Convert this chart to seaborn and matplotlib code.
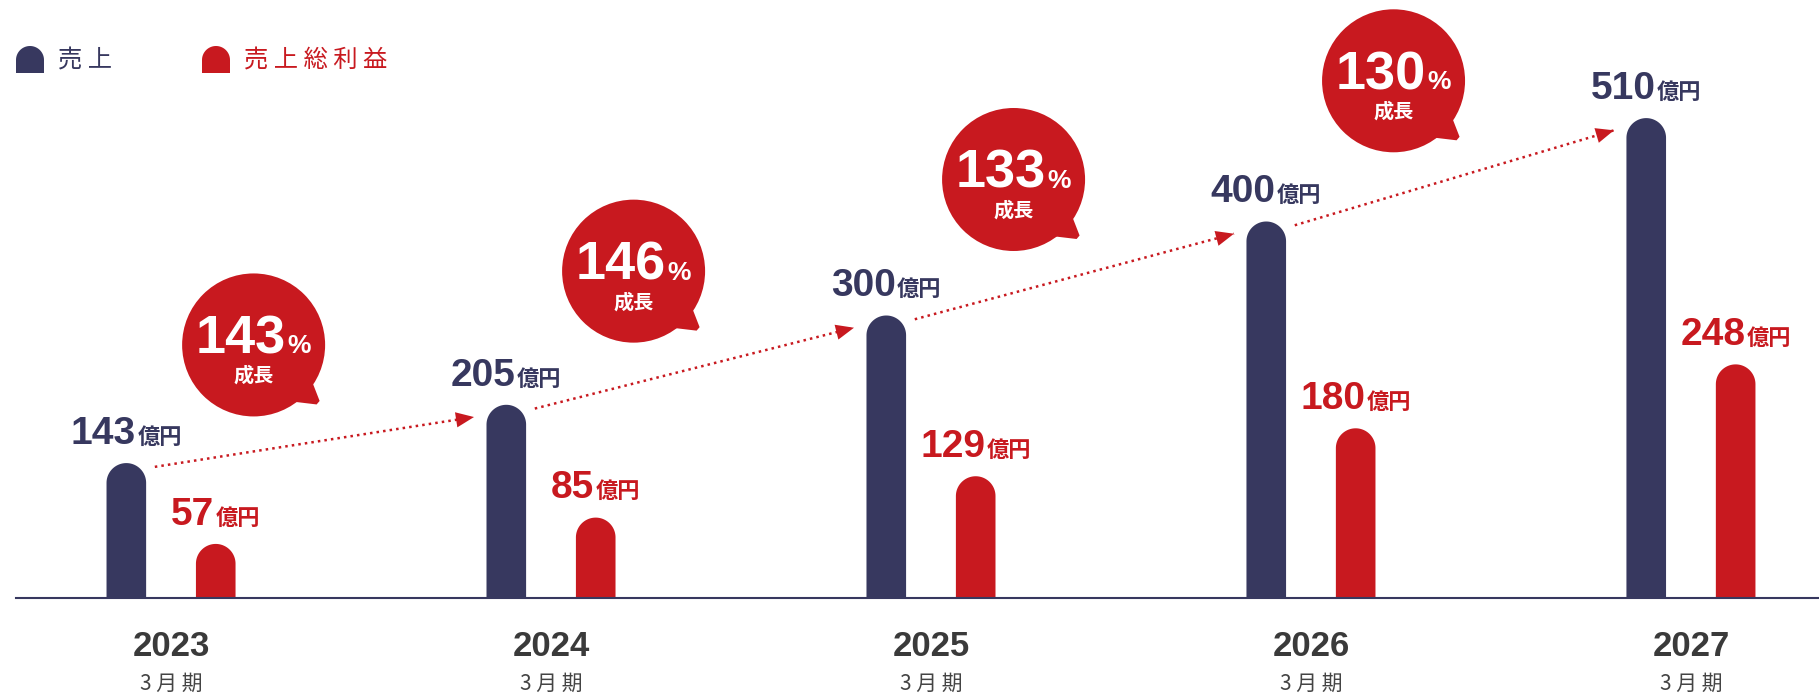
import numpy as np
import pandas as pd
import matplotlib
matplotlib.use("Agg")
import matplotlib.pyplot as plt
import matplotlib.transforms as mtransforms
from matplotlib.path import Path
from matplotlib.patches import PathPatch, Circle, Polygon
from matplotlib.offsetbox import TextArea, HPacker, AnnotationBbox
import seaborn as sns

# ---- data -------------------------------------------------------------
years = ["2023", "2024", "2025", "2026", "2027"]
period_label = "3 月 期"
sales = [143, 205, 300, 400, 510]
gross_profit = [57, 85, 129, 180, 248]
growth_pct = [143, 146, 133, 130]
series_names = ["売上", "売上総利益"]
legend_labels = ["売 上", "売 上 総 利 益"]
unit = "億円"
growth_word = "成長"

NAVY = "#37385f"
RED = "#c8191f"
YEAR_COLOR = "#3a3a3a"
PERIOD_COLOR = "#444444"

NUM_FONT = ["Liberation Sans", "DejaVu Sans"]
JP_FONT = ["Noto Sans CJK JP", "DejaVu Sans"]

sns.set_theme(style="white")
plt.rcParams["font.family"] = JP_FONT

# ---- canvas / axes geometry (pixels) -----------------------------------
W, H, DPI = 1819, 698, 100
base_px = 597.5          # baseline distance from top
left_px = 16
px_per_unit = 0.94       # vertical scale
xlim = (-0.408, 4.337)
ymax = base_px / px_per_unit

fig = plt.figure(figsize=(W / DPI, H / DPI), dpi=DPI, facecolor="white")
ax = fig.add_axes([left_px / W, (H - base_px) / H, (W - left_px) / W, base_px / H])

df = pd.DataFrame({
    "year": years * 2,
    "value": sales + gross_profit,
    "series": [series_names[0]] * len(years) + [series_names[1]] * len(years),
})
sns.barplot(data=df, x="year", y="value", hue="series", palette=[NAVY, RED],
            width=0.4706, gap=0.557, saturation=1, errorbar=None,
            legend=False, ax=ax)

ax.set_xlim(*xlim)
ax.set_ylim(0, ymax)
ax.set_xticks([])
ax.set_yticks([])
ax.set_xlabel("")
ax.set_ylabel("")
ax.grid(False)
for side in ("left", "top", "right"):
    ax.spines[side].set_visible(False)
ax.spines["bottom"].set_color(NAVY)
ax.spines["bottom"].set_linewidth(1.5)
ax.spines["bottom"].set_zorder(4)

px_x = (W - left_px) / (xlim[1] - xlim[0])


def capsule_path(x0, w, h, ry):
    rx = w / 2
    t = np.linspace(np.pi, 0, 48)
    arc = np.column_stack([x0 + rx + rx * np.cos(t), h - ry + ry * np.sin(t)])
    verts = np.vstack([[x0, 0], [x0, h - ry], arc, [x0 + w, 0], [x0, 0]])
    codes = [Path.MOVETO] + [Path.LINETO] * (len(verts) - 2) + [Path.CLOSEPOLY]
    return Path(verts, codes)


# replace the square bars with round-topped ones
bar_centers = []
for container in ax.containers:
    centers = []
    for bar in container:
        x0, w, h = bar.get_x(), bar.get_width(), bar.get_height()
        ry = (w / 2) * px_x / px_per_unit
        ax.add_patch(PathPatch(capsule_path(x0, w, h, ry),
                               facecolor=bar.get_facecolor(), edgecolor="none", zorder=2))
        bar.set_visible(False)
        centers.append(x0 + w / 2)
    bar_centers.append(centers)


# ---- value labels ---------------------------------------------------------
def value_label(x, v, color):
    num = TextArea(f"{v}", textprops=dict(color=color, fontsize=28, fontweight="bold",
                                          family=NUM_FONT))
    u = TextArea(unit, textprops=dict(color=color, fontsize=16, fontweight="bold",
                                      family=JP_FONT))
    box = HPacker(children=[num, u], align="baseline", pad=0, sep=1)
    ab = AnnotationBbox(box, (x, v), xybox=(0, 21), xycoords="data",
                        boxcoords="offset points", frameon=False,
                        box_alignment=(0.5, 0.5), pad=0, zorder=6)
    ax.add_artist(ab)


for x, v in zip(bar_centers[0], sales):
    value_label(x, v, NAVY)
for x, v in zip(bar_centers[1], gross_profit):
    value_label(x, v, RED)

# ---- growth arrows and bubbles ----------------------------------------------
bubble_lift_in = 0.89     # bubble centre above the mid value (inches)
bubble_r_in = 0.715
tail = np.array([[0, 0], [59, -38], [66, -56], [63, -59.5], [42, -57]]) / DPI

for i, pct in enumerate(growth_pct):
    xa, va = bar_centers[0][i], sales[i]
    xb, vb = bar_centers[0][i + 1], sales[i + 1]
    start = (xa + 0.075, va - 4)
    tip = (xb - 0.085, vb - 13)
    ax.plot([start[0], tip[0]], [start[1], tip[1]], color=RED, lw=1.8,
            linestyle=(0, (1, 1.64)), dash_capstyle="butt", zorder=3)
    ax.annotate("", xy=tip, xytext=start,
                arrowprops=dict(arrowstyle="-|>,head_length=1.3,head_width=0.55",
                                mutation_scale=10, color=RED, lw=0,
                                shrinkA=0, shrinkB=0), zorder=3)

    bx = xa + 0.335
    by = (va + vb) / 2
    trans = fig.dpi_scale_trans + mtransforms.ScaledTranslation(bx, by, ax.transData)
    ax.add_artist(Circle((0, bubble_lift_in), bubble_r_in, transform=trans,
                         facecolor=RED, edgecolor="none", zorder=5))
    ax.add_artist(Polygon(tail + [0, bubble_lift_in], closed=True, transform=trans,
                          facecolor=RED, edgecolor="none", zorder=5))

    num = TextArea(f"{pct}", textprops=dict(color="white", fontsize=39, fontweight="bold",
                                            family=NUM_FONT))
    sign = TextArea("%", textprops=dict(color="white", fontsize=19, fontweight="bold",
                                        family=NUM_FONT))
    line1 = HPacker(children=[num, sign], align="baseline", pad=0, sep=1)
    ax.add_artist(AnnotationBbox(line1, (bx, by), xybox=(0, bubble_lift_in * 72 + 4),
                                 xycoords="data", boxcoords="offset points",
                                 frameon=False, box_alignment=(0.5, 0.5), pad=0, zorder=6))
    word = TextArea(growth_word, textprops=dict(color="white", fontsize=14.5,
                                                fontweight="bold", family=JP_FONT))
    ax.add_artist(AnnotationBbox(word, (bx, by), xybox=(0, bubble_lift_in * 72 - 22),
                                 xycoords="data", boxcoords="offset points",
                                 frameon=False, box_alignment=(0.5, 0.5), pad=0, zorder=6))

# ---- category labels -------------------------------------------------------
for i, yr in enumerate(years):
    ax.annotate(yr, (i, 0), xycoords=("data", "axes fraction"), xytext=(0, -35),
                textcoords="offset points", ha="center", va="center",
                fontsize=25, fontweight="bold", color=YEAR_COLOR, family=NUM_FONT,
                annotation_clip=False)
    ax.annotate(period_label, (i, 0), xycoords=("data", "axes fraction"), xytext=(0, -62),
                textcoords="offset points", ha="center", va="center",
                fontsize=15, color=PERIOD_COLOR, family=JP_FONT,
                annotation_clip=False)

# ---- legend ------------------------------------------------------------------
def tombstone(x_px, y_top_px, w_px, h_px, color):
    x0 = x_px / DPI
    y0 = (H - y_top_px - h_px) / DPI
    w = w_px / DPI
    h = h_px / DPI
    r = w / 2
    t = np.linspace(np.pi, 0, 40)
    arc = np.column_stack([x0 + r + r * np.cos(t), y0 + h - r + r * np.sin(t)])
    verts = np.vstack([[x0, y0], [x0, y0 + h - r], arc, [x0 + w, y0], [x0, y0]])
    codes = [Path.MOVETO] + [Path.LINETO] * (len(verts) - 2) + [Path.CLOSEPOLY]
    fig.add_artist(PathPatch(Path(verts, codes), transform=fig.dpi_scale_trans,
                             facecolor=color, edgecolor="none"))


legend_items = [(16, 58, NAVY), (202, 244, RED)]
for (icon_x, text_x, color), label in zip(legend_items, legend_labels):
    tombstone(icon_x, 46, 28, 27, color)
    fig.text(text_x / W, 1 - 61 / H, label, ha="left", va="center",
             fontsize=17.5, color=color, family=JP_FONT)

fig.savefig("out.png", dpi=DPI, facecolor="white")
